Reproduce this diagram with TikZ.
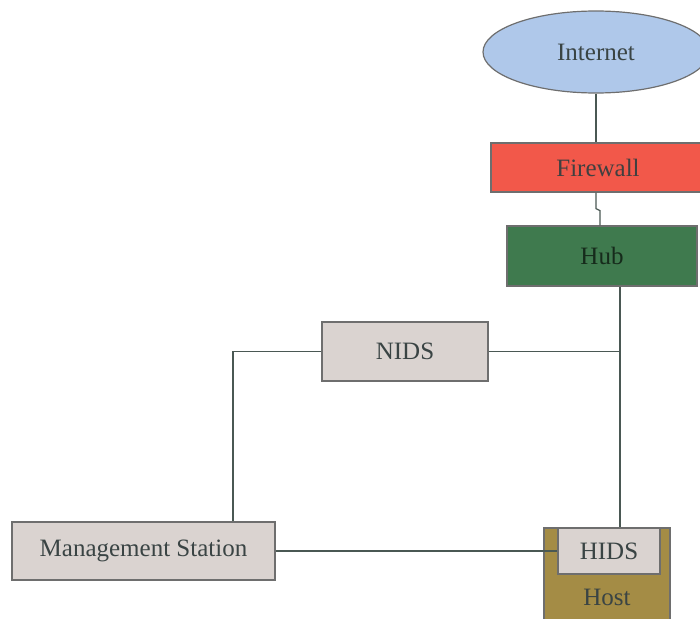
\documentclass[tikz,border=0pt]{standalone}
\usepackage{fontspec}
\setmainfont{Liberation Serif}
\usetikzlibrary{shapes.geometric}
\definecolor{inetfill}{HTML}{AFC8EA}
\definecolor{fwfill}{HTML}{F2584A}
\definecolor{hubfill}{HTML}{3F7A4E}
\definecolor{boxfill}{HTML}{DAD3D0}
\definecolor{hostfill}{HTML}{A48C45}
\definecolor{edge}{HTML}{6E6E6E}
\definecolor{wire}{HTML}{4A5853}
\definecolor{ink}{HTML}{3A4444}
\tikzset{
  every node/.style={font=\fontsize{25}{28}\selectfont, text=ink, inner sep=0pt},
  box/.style={rectangle, draw=edge, line width=1.2pt},
  wirestyle/.style={draw=wire, line width=1.2pt},
}
\begin{document}
\begin{tikzpicture}[x=1pt, y=-1pt]
  \useasboundingbox (0,0) rectangle (700,618);
  % internet uplink
  \node[ellipse, draw=edge, line width=1.2pt, fill=inetfill,
        minimum width=226, minimum height=82] (internet) at (596,52) {Internet};
  \node[box, fill=fwfill, minimum width=214, minimum height=49,
        text=black!75] (firewall) at (598,167.5) {Firewall};
  \node[box, fill=hubfill, minimum width=190, minimum height=60,
        text=black!65!hubfill] (hub) at (602,256) {Hub};
  % sensors and console
  \node[box, fill=boxfill, minimum width=166, minimum height=59] (nids) at (405,351.5) {NIDS};
  \node[box, fill=boxfill, minimum width=263, minimum height=58] (mgmt) at (143.5,551) {Management Station};
  \node[box, fill=hostfill, minimum width=126, minimum height=97] (host) at (607,576.5) {};
  \node (hostlabel) at (607,597) {Host};
  \node[box, fill=boxfill, minimum width=102, minimum height=46] (hids) at (609,551) {HIDS};
  % wiring
  \coordinate (bus) at (620,351.5);
  \draw[wirestyle] (internet.south) -- (internet.south |- firewall.north);
  \draw[wirestyle] (internet.south |- firewall.south) -- ++(0,16) -- ++(4,2) coordinate (jog) -- (jog |- hub.north);
  \draw[wirestyle] (bus |- hub.south) -- (bus |- hids.north);
  \draw[wirestyle] (nids.east) -- (bus);
  \draw[wirestyle] (nids.west) -| ([xshift=89.5]mgmt.north);
  \draw[wirestyle] (mgmt.east) -- (hids.west);
\end{tikzpicture}
\end{document}
